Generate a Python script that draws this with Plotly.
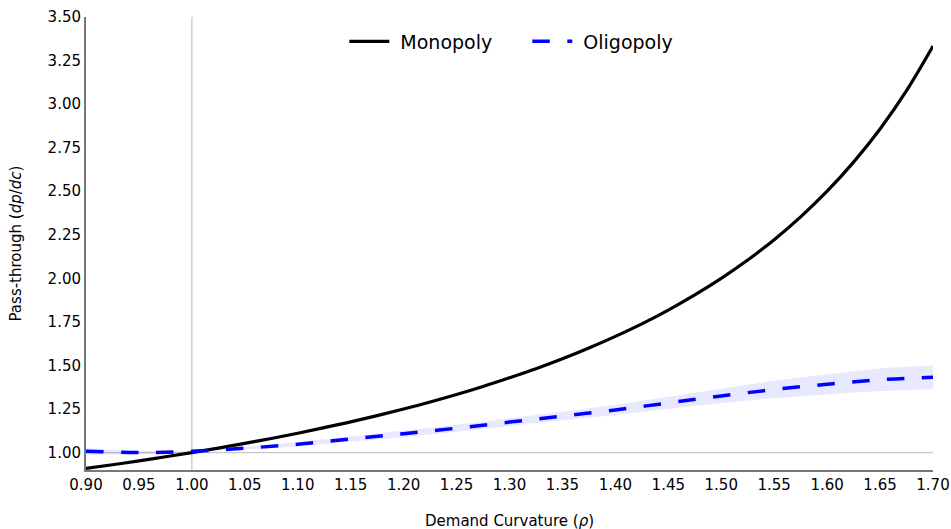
import plotly.graph_objects as go

rho_fine = [0.900, 0.925, 0.950, 0.975, 1.000, 1.025, 1.050, 1.075, 1.100, 1.125,
            1.150, 1.175, 1.200, 1.225, 1.250, 1.275, 1.300, 1.325, 1.350, 1.375,
            1.400, 1.425, 1.450, 1.475, 1.500, 1.525, 1.550, 1.575, 1.600, 1.625,
            1.650, 1.675, 1.700]
monopoly = [0.909, 0.930, 0.952, 0.976, 1.000, 1.026, 1.053, 1.081, 1.111, 1.143,
            1.176, 1.212, 1.250, 1.290, 1.333, 1.379, 1.429, 1.481, 1.538, 1.600,
            1.667, 1.739, 1.818, 1.905, 2.000, 2.105, 2.222, 2.353, 2.500, 2.667,
            2.857, 3.077, 3.333]
rho = [0.90, 0.95, 1.00, 1.05, 1.10, 1.15, 1.20, 1.25, 1.30, 1.35, 1.40,
       1.45, 1.50, 1.55, 1.60, 1.65, 1.70]
oligopoly = [1.008, 1.000, 1.008, 1.025, 1.048, 1.078, 1.108, 1.140, 1.175,
             1.210, 1.245, 1.285, 1.325, 1.362, 1.392, 1.418, 1.432]
olig_upper = [1.028, 1.010, 1.013, 1.033, 1.060, 1.093, 1.126, 1.160, 1.197,
              1.235, 1.275, 1.320, 1.367, 1.412, 1.450, 1.483, 1.500]
olig_lower = [0.988, 0.990, 1.003, 1.017, 1.036, 1.063, 1.090, 1.120, 1.153,
              1.185, 1.215, 1.250, 1.283, 1.312, 1.334, 1.353, 1.364]
x_ticks = [0.90, 0.95, 1.00, 1.05, 1.10, 1.15, 1.20, 1.25, 1.30, 1.35, 1.40,
           1.45, 1.50, 1.55, 1.60, 1.65, 1.70]
y_ticks = [1.00, 1.25, 1.50, 1.75, 2.00, 2.25, 2.50, 2.75, 3.00, 3.25, 3.50]

font = "DejaVu Sans"

fig = go.Figure()
fig.add_trace(go.Scatter(x=rho, y=olig_upper, mode="lines", line=dict(width=0, shape="spline"),
                         showlegend=False, hoverinfo="skip"))
fig.add_trace(go.Scatter(x=rho, y=olig_lower, mode="lines", line=dict(width=0, shape="spline"),
                         fill="tonexty", fillcolor="rgba(0,0,255,0.09)",
                         showlegend=False, hoverinfo="skip"))
fig.add_trace(go.Scatter(x=rho_fine, y=monopoly, mode="lines", name="\u00a0Monopoly",
                         line=dict(color="black", width=3.2, shape="spline")))
fig.add_trace(go.Scatter(x=rho, y=oligopoly, mode="lines", name="\u00a0Oligopoly",
                         line=dict(color="#0000ff", width=3.5, dash="longdash", shape="spline")))

fig.add_shape(type="line", xref="paper", yref="y", x0=0, x1=1, y0=1, y1=1,
              line=dict(color="#c8c8c8", width=1.3), layer="below")
fig.add_shape(type="line", xref="x", yref="paper", x0=1, x1=1, y0=0, y1=1,
              line=dict(color="#c8c8c8", width=1.3), layer="below")

fig.add_annotation(text="Demand Curvature (<i>ρ</i>)", xref="paper", yref="paper",
                   x=0.5, y=0, yshift=-51, xanchor="center", yanchor="middle",
                   showarrow=False, font=dict(family=font, size=15, color="black"))
fig.add_annotation(text="Pass-through (<i>dp</i>/<i>dc</i>)", xref="paper", yref="paper",
                   x=0, y=0.5, xshift=-71, xanchor="center", yanchor="middle", textangle=-90,
                   showarrow=False, font=dict(family=font, size=15, color="black"))

fig.update_layout(
    width=951, height=529,
    margin=dict(l=86, r=18, t=17, b=59),
    paper_bgcolor="white", plot_bgcolor="white",
    font=dict(family=font, size=15, color="black"),
    legend=dict(orientation="h", x=0.521, xanchor="center", y=0.988, yanchor="top",
                traceorder="normal", font=dict(family=font, size=19, color="black"),
                bgcolor="rgba(0,0,0,0)", itemwidth=40, entrywidth=128, entrywidthmode="pixels"),
    xaxis=dict(range=[0.9, 1.7], tickvals=x_ticks, tickformat=".2f", automargin=False,
               showgrid=False, zeroline=False, showline=True, linecolor="#777777",
               linewidth=2, ticks="", tickfont=dict(family=font, size=15, color="black")),
    yaxis=dict(range=[0.9, 3.5], tickvals=y_ticks, tickformat=".2f", automargin=False,
               showgrid=False, zeroline=False, showline=True, linecolor="#777777",
               linewidth=2, ticks="", tickfont=dict(family=font, size=15, color="black")),
)
fig.write_html("out.html", config={"displayModeBar": False},
               post_script="document.body.style.margin='0';document.body.style.overflow='hidden';")
